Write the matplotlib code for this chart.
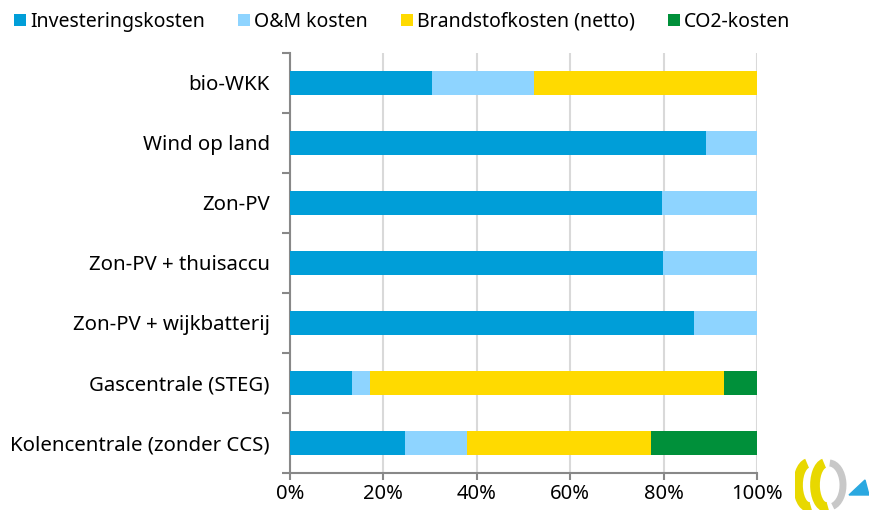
import matplotlib.pyplot as plt
import matplotlib.patches as mpatches
import numpy as np

plt.rcParams['font.family'] = ['Noto Sans', 'DejaVu Sans']

categories = ['bio-WKK', 'Wind op land', 'Zon-PV', 'Zon-PV + thuisaccu',
              'Zon-PV + wijkbatterij', 'Gascentrale (STEG)', 'Kolencentrale (zonder CCS)']
invest = [30.4, 89.1, 79.7, 79.9, 86.5, 13.3, 24.6]
om = [21.8, 10.9, 20.3, 20.1, 13.5, 3.8, 13.3]
brandstof = [47.8, 0, 0, 0, 0, 75.8, 39.4]
co2 = [0, 0, 0, 0, 0, 7.1, 22.7]

series = [invest, om, brandstof, co2]
labels = ['Investeringskosten', 'O&M kosten', 'Brandstofkosten (netto)', 'CO2-kosten']
colors = ['#009ED8', '#8ED4FF', '#FFDA00', '#00903A']

fig = plt.figure(figsize=(8.69, 5.12), dpi=100)
ax = fig.add_axes([0.3337, 0.0762, 0.5374, 0.8203])

y = np.arange(len(categories))
totals = np.array(invest) + np.array(om) + np.array(brandstof) + np.array(co2)
left = np.zeros(len(categories))
for vals, lab, col in zip(series, labels, colors):
    pct = np.array(vals) / totals * 100
    ax.barh(y, pct, left=left, height=0.4, color=col, label=lab, zorder=3)
    left += pct

ax.set_xlim(0, 100)
ax.set_ylim(len(categories) - 0.5, -0.5)
ax.set_xticks(np.arange(0, 101, 20))
ax.set_xticklabels([f'{v}%' for v in range(0, 101, 20)], fontsize=14.5)
ax.set_yticks(y)
ax.set_yticklabels(categories, fontsize=14.7)
ax.tick_params(axis='y', length=0, pad=14.5)
ax.set_yticks(np.arange(-0.5, len(categories), 1), minor=True)
ax.tick_params(axis='y', which='minor', length=6, color='#888888', width=1.5)
ax.tick_params(axis='x', length=5, color='#888888', width=1.5, pad=3)
ax.grid(axis='x', color='#D9D9D9', linewidth=1.5, zorder=0)
for s in ['top', 'right']:
    ax.spines[s].set_visible(False)
for s in ['left', 'bottom']:
    ax.spines[s].set_color('#888888')
    ax.spines[s].set_linewidth(1.5)

fig.legend(loc='upper left', bbox_to_anchor=(0.003, 1.0), ncol=4, frameon=False,
           fontsize=14, handlelength=0.62, handleheight=0.62, handletextpad=0.2,
           columnspacing=1.7, borderaxespad=0.2)

# logo in de hoek
lg = fig.add_axes([795 / 869, 2 / 512, 74 / 869, 52 / 512])
lg.set_xlim(0, 74)
lg.set_ylim(0, 52)
lg.axis('off')
lg.add_patch(mpatches.Arc((14, 25), 22, 44, theta1=95, theta2=275, lw=7, color='#E8D800'))
lg.add_patch(mpatches.Arc((31, 25), 22, 44, theta1=95, theta2=275, lw=7, color='#E8D800'))
lg.add_patch(mpatches.Arc((34, 25), 28, 44, theta1=-80, theta2=88, lw=5, color='#C8C8C8'))
lg.add_patch(mpatches.Polygon([(54, 15), (74, 15), (70, 30)], color='#2AA8E0'))

fig.savefig('out.png', dpi=100)
